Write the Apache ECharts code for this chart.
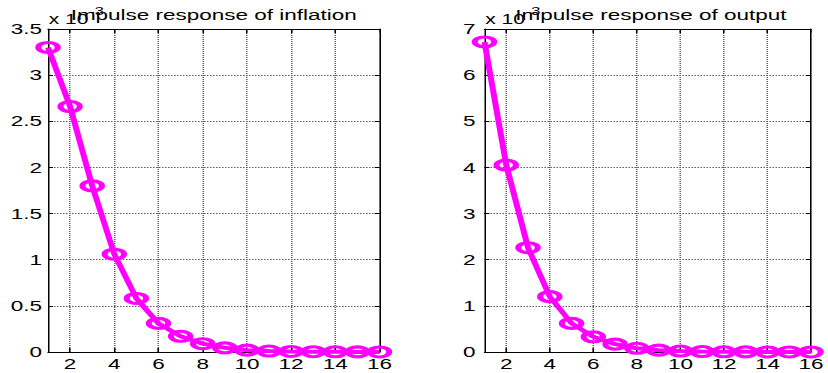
<!DOCTYPE html>
<html><head><meta charset="utf-8">
<script src="https://cdn.jsdelivr.net/npm/echarts@6/dist/echarts.min.js"></script>
<style>
html,body{margin:0;padding:0;background:#fff;overflow:hidden}
#wrap{width:828px;height:373px;overflow:hidden;position:relative}
#c{width:552px;height:373px;transform:scaleX(1.5);transform-origin:0 0;position:absolute;left:0;top:0}
</style>
</head><body><div id="wrap"><div id="c"></div></div>
<script>
// horizon (periods after the shock)
const steps = [1, 2, 3, 4, 5, 6, 7, 8, 9, 10, 11, 12, 13, 14, 15, 16];
const xTickValues = [2, 4, 6, 8, 10, 12, 14, 16];
// impulse responses (actual units, plotted as x 10^-3)
const inflation = [3.30e-3, 2.66e-3, 1.80e-3, 1.06e-3, 0.58e-3, 0.31e-3, 0.17e-3, 0.09e-3,
                   0.045e-3, 0.02e-3, 0.01e-3, 0.006e-3, 0.003e-3, 0.002e-3, 0.001e-3, 0.0005e-3];
const output = [6.72e-3, 4.05e-3, 2.26e-3, 1.20e-3, 0.62e-3, 0.33e-3, 0.17e-3, 0.08e-3,
                0.04e-3, 0.02e-3, 0.01e-3, 0.005e-3, 0.003e-3, 0.001e-3, 0.001e-3, 0.0005e-3];
const titles = ['Impulse response of inflation', 'Impulse response of output'];
const yMax = [3.5e-3, 7e-3];
const yStep = [0.5e-3, 1e-3];

const FONT = '"Liberation Sans", Arial, Helvetica, sans-serif';
const MAG = '#ff00ff';
const grids = [{left: 32, top: 29, width: 221, height: 323}, {left: 323, top: 29, width: 222, height: 323}];
const labelMargins = [4, 6];

const xAxes = [], yAxes = [];
grids.forEach((g, i) => {
  xAxes.push({
    type: 'value', gridIndex: i, position: 'bottom', min: 1, max: 16,
    axisLine: {show: true, onZero: false, lineStyle: {color: '#000', width: 1}},
    axisTick: {show: true, inside: true, length: 4, customValues: xTickValues, lineStyle: {color: '#000'}},
    axisLabel: {show: true, customValues: xTickValues, margin: 4, color: '#000', fontSize: 15, fontFamily: FONT},
    splitLine: {show: true, lineStyle: {color: '#5a5a5a', type: [1, 1], width: 1}}
  });
  xAxes.push({
    type: 'value', gridIndex: i, position: 'top', min: 1, max: 16,
    axisLine: {show: true, onZero: false, lineStyle: {color: '#000', width: 1}},
    axisTick: {show: true, inside: true, length: 4, customValues: xTickValues, lineStyle: {color: '#000'}},
    axisLabel: {show: false}, splitLine: {show: false}
  });
  const fmt = v => String(Math.round(v * 1e4) / 10);
  yAxes.push({
    type: 'value', gridIndex: i, position: 'left', min: 0, max: yMax[i], interval: yStep[i],
    axisLine: {show: true, onZero: false, lineStyle: {color: '#000', width: 1}},
    axisTick: {show: true, inside: true, length: 3.3, lineStyle: {color: '#000'}},
    axisLabel: {show: true, margin: labelMargins[i], color: '#000', fontSize: 15, fontFamily: FONT, formatter: fmt},
    splitLine: {show: true, lineStyle: {color: '#5a5a5a', type: [1, 1], width: 1}}
  });
  yAxes.push({
    type: 'value', gridIndex: i, position: 'right', min: 0, max: yMax[i], interval: yStep[i],
    axisLine: {show: true, onZero: false, lineStyle: {color: '#000', width: 1}},
    axisTick: {show: true, inside: true, length: 3.3, lineStyle: {color: '#000'}},
    axisLabel: {show: false}, splitLine: {show: false}
  });
});

const ELLIPSE = 'path://M1,0C1.5523,0,2,0.4477,2,1C2,1.5523,1.5523,2,1,2C0.4477,2,0,1.5523,0,1C0,0.4477,0.4477,0,1,0Z';
function mkSeries(vals, i) {
  return {
    type: 'line', xAxisIndex: i * 2, yAxisIndex: i * 2,
    data: steps.map((s, k) => [s, vals[k]]),
    clip: false, animation: false, silent: true,
    symbol: ELLIPSE, symbolSize: [13, 10], symbolKeepAspect: false, showAllSymbol: true,
    lineStyle: {color: MAG, width: 4},
    itemStyle: {color: 'rgba(255,255,255,0)', borderColor: MAG, borderWidth: 3.5},
    z: 5
  };
}

const graphics = [];
grids.forEach((g, i) => {
  graphics.push({type: 'text', x: g.left + g.width / 2, y: 15, z: 10,
    style: {text: titles[i], fontSize: 15, fontFamily: FONT, fill: '#000', textAlign: 'center', textVerticalAlign: 'middle'}});
  graphics.push({type: 'text', x: g.left + 0.5, y: 19, z: 9,
    style: {text: 'x 10', fontSize: 14, fontFamily: FONT, fill: '#000', textAlign: 'left', textVerticalAlign: 'middle'}});
  graphics.push({type: 'text', x: g.left + 27.5, y: 11, z: 9,
    style: {text: '-3', fontSize: 11, fontFamily: FONT, fill: '#000', textAlign: 'left', textVerticalAlign: 'middle'}});
});

const chart = echarts.init(document.getElementById('c'), null, {renderer: 'svg', width: 552, height: 373});
chart.setOption({
  animation: false,
  backgroundColor: '#fff',
  grid: grids,
  xAxis: xAxes,
  yAxis: yAxes,
  series: [mkSeries(inflation, 0), mkSeries(output, 1)],
  graphic: graphics
});
</script>
</body></html>
